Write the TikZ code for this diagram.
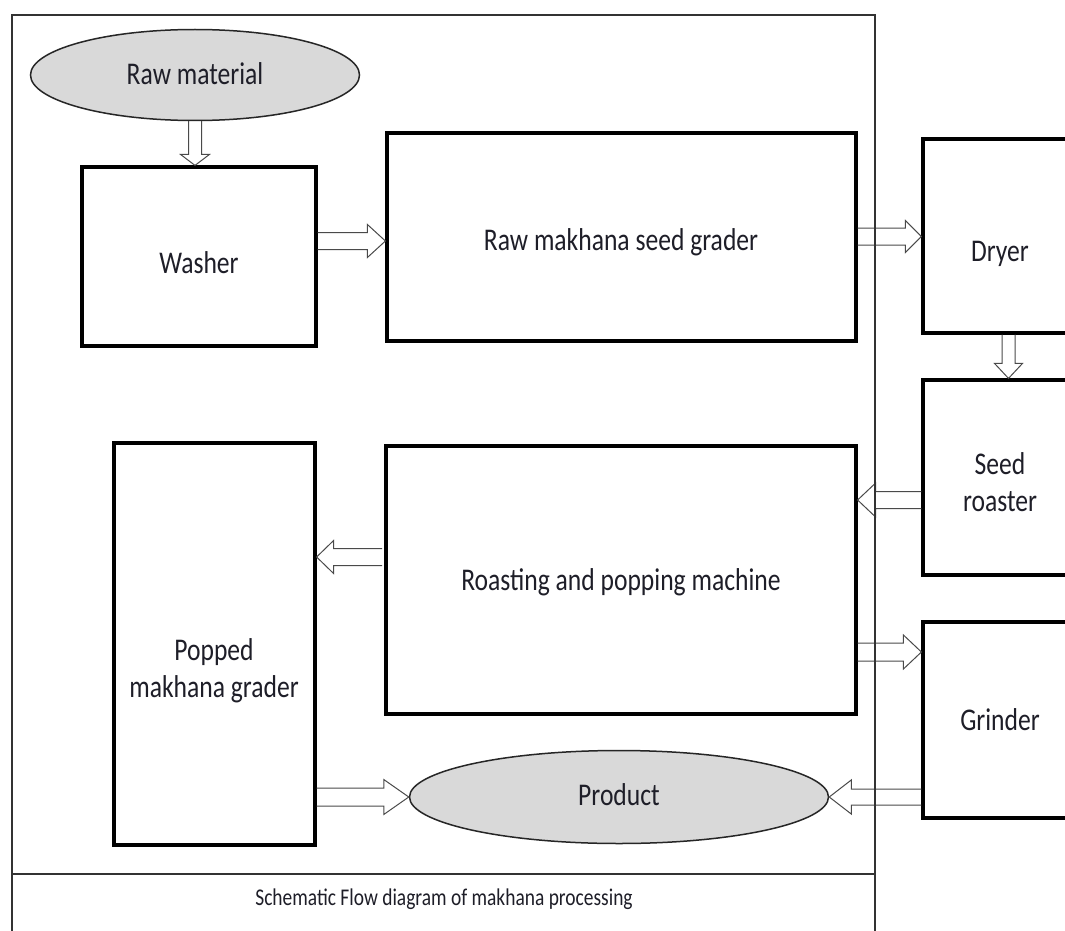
\documentclass[tikz,border=0pt]{standalone}
\usepackage{fontspec}
\setmainfont[FakeStretch=0.81]{Carlito}
\usetikzlibrary{calc,shapes.geometric}
\definecolor{txt}{HTML}{1E1E28}
\definecolor{ovalfill}{HTML}{D9D9D9}
\definecolor{arrline}{HTML}{4A4A4A}
\tikzset{
  box/.style={draw=black, line width=3.2pt, rectangle, inner sep=0pt},
  oval/.style={draw=black!85, line width=1.5pt, ellipse, fill=ovalfill, inner sep=0pt},
  lbl/.style={text=txt, font=\fontsize{31.6}{37}\selectfont, inner sep=0pt, anchor=base, align=center},
  caption/.style={text=txt, font=\fontsize{24}{28}\selectfont, inner sep=0pt, anchor=base},
  frame/.style={draw=black!80, line width=1.3pt},
  blk/.style={draw=arrline, line width=1pt, line join=miter}
}
% block arrow: #1 from, #2 to, #3 shaft half width, #4 head half width, #5 head length
\newcommand\blockarr[5]{%
  \coordinate (tmpH) at ($(#2)!#5!(#1)$);
  \draw[blk] ($(#1)!#3!90:(#2)$) -- ($(tmpH)!#3!-90:(#1)$) -- ($(tmpH)!#4!-90:(#1)$)
    -- (#2) -- ($(tmpH)!#4!90:(#1)$) -- ($(tmpH)!#3!90:(#1)$) -- ($(#1)!#3!-90:(#2)$);
}
\begin{document}
\begin{tikzpicture}[x=1pt,y=-1pt]
\useasboundingbox (0,0) rectangle (1065,931);
\clip (0,0) rectangle (1065,931);
\fill[white] (0,0) rectangle (1065,931);

% frame
\draw[frame] (12,931) -- (12,15) -- (875,15) -- (875,931);
\draw[frame] (12,874) -- (875,874);

% shapes
\node[oval, minimum width=329pt, minimum height=91pt] (raw) at (195,75) {};
\node[box, minimum width=234pt, minimum height=179pt] (washer) at (199,256.5) {};
\node[box, minimum width=469pt, minimum height=208pt] (grader) at (621.5,237) {};
\node[box, minimum width=154pt, minimum height=194pt] (dryer) at (1000,236) {};
\node[box, minimum width=154pt, minimum height=195pt] (seed) at (1000,477.5) {};
\node[box, minimum width=470pt, minimum height=268pt] (roast) at (621,580) {};
\node[box, minimum width=201pt, minimum height=402pt] (popped) at (214.5,644) {};
\node[box, minimum width=154pt, minimum height=196pt] (grinder) at (1000,720) {};
\node[oval, minimum width=419pt, minimum height=93pt] (product) at (619,797) {};

% texts
\node[lbl] (traw) at (195,85) {Raw material};
\node[lbl] (twasher) at (199,273) {Washer};
\node[lbl] (tgrader) at (621,250) {Raw makhana seed grader};
\node[lbl] (tdryer) at (1000,261) {Dryer};
\node[lbl] (tseed) at (1000,511) {Seed\\roaster};
\node[lbl] (troast) at (621,590) {Roasting and popping machine};
\node[lbl] (tpopped) at (214,697) {Popped\\makhana grader};
\node[lbl] (tgrinder) at (1000,730) {Grinder};
\node[lbl] (tproduct) at (619,805) {Product};
\node[caption] (cap) at (444,905) {Schematic Flow diagram of makhana processing};

% arrows
\blockarr{raw.south}{raw.south |- washer.north}{6.5pt}{14.5pt}{11pt}
\blockarr{washer.east |- 0,241}{grader.west |- 0,241}{8.5pt}{16.5pt}{18pt}
\blockarr{grader.east |- 0,236.5}{dryer.west |- 0,236.5}{8.5pt}{16pt}{16pt}
\blockarr{1008.5,0 |- dryer.south}{1008.5,0 |- seed.north}{6.5pt}{14pt}{15pt}
\blockarr{seed.west |- 0,500}{roast.east |- 0,500}{8.5pt}{17pt}{18pt}
\blockarr{382,557}{popped.east |- 0,557}{8.5pt}{16.5pt}{17pt}
\blockarr{roast.east |- 0,652}{grinder.west |- 0,652}{9pt}{17pt}{18pt}
\blockarr{grinder.west |- product.east}{product.east}{8pt}{17pt}{22pt}
\blockarr{popped.east |- product.west}{product.west}{9pt}{17.5pt}{25pt}

% frame line drawn over arrows
\draw[frame] (875,15) -- (875,931);
\end{tikzpicture}
\end{document}
